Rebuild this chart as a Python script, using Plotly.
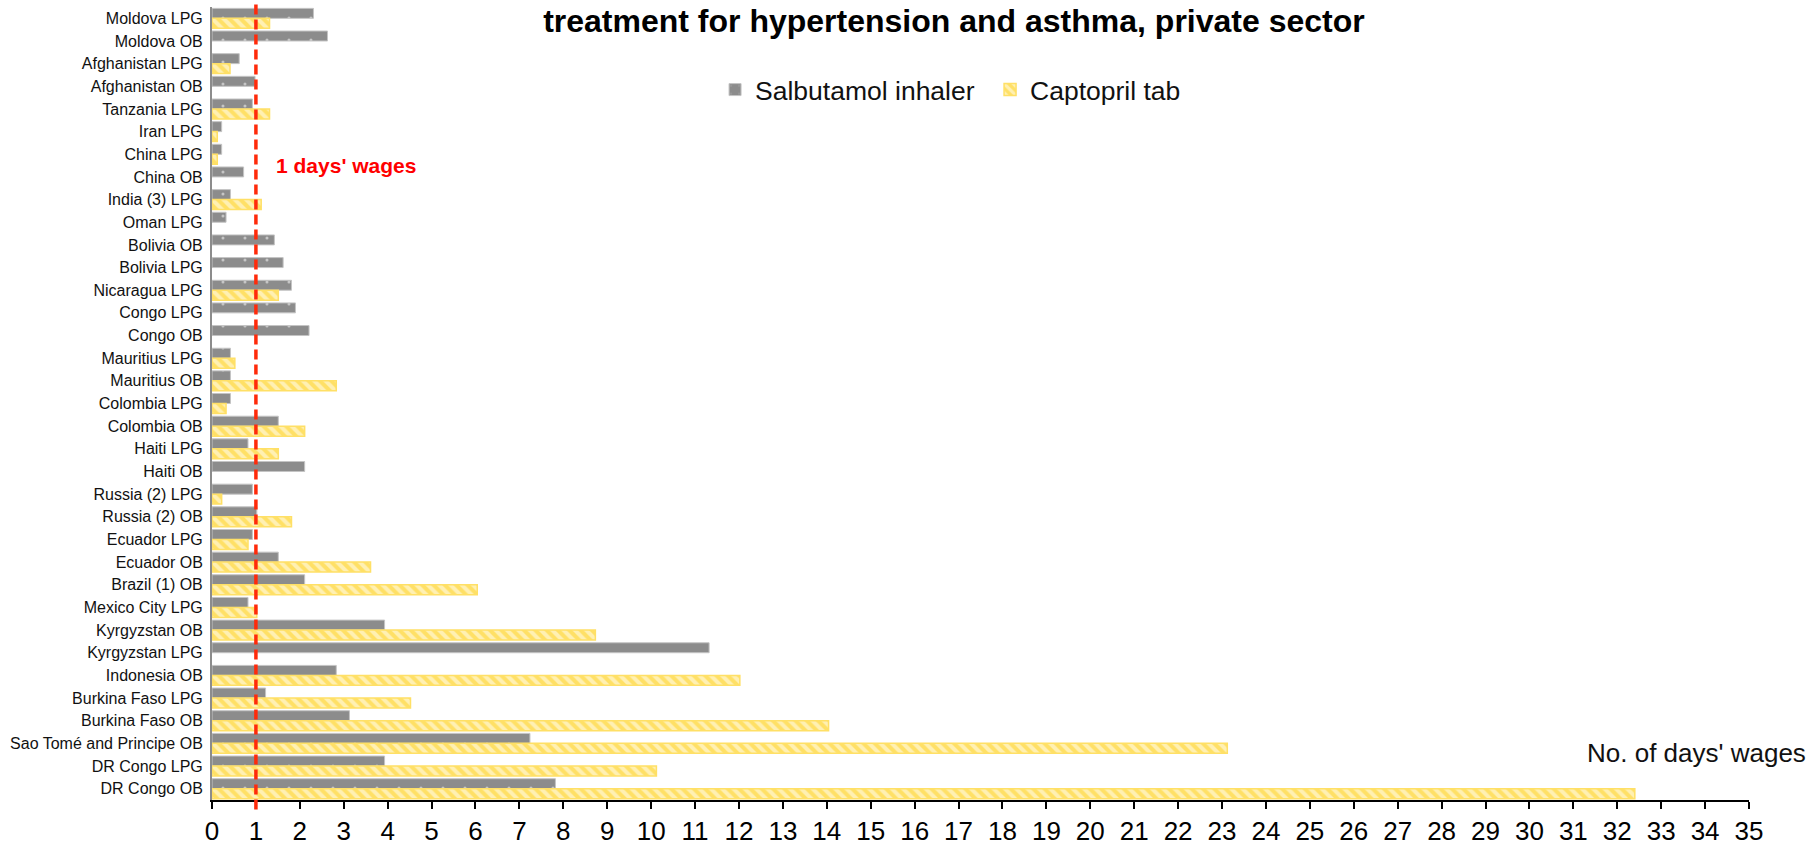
import plotly.graph_objects as go

# Rows listed top to bottom
categories = [
    "Moldova LPG", "Moldova OB", "Afghanistan LPG", "Afghanistan OB", "Tanzania LPG",
    "Iran LPG", "China LPG", "China OB", "India (3) LPG", "Oman LPG",
    "Bolivia OB", "Bolivia LPG", "Nicaragua LPG", "Congo LPG", "Congo OB",
    "Mauritius LPG", "Mauritius OB", "Colombia LPG", "Colombia OB", "Haiti LPG",
    "Haiti OB", "Russia (2) LPG", "Russia (2) OB", "Ecuador LPG", "Ecuador OB",
    "Brazil (1) OB", "Mexico City LPG", "Kyrgyzstan OB", "Kyrgyzstan LPG", "Indonesia OB",
    "Burkina Faso LPG", "Burkina Faso OB", "Sao Tomé and Principe OB", "DR Congo LPG", "DR Congo OB",
]

salbutamol = [
    2.31, 2.63, 0.62, 0.98, 0.92,
    0.22, 0.22, 0.72, 0.42, 0.32,
    1.42, 1.62, 1.81, 1.90, 2.21,
    0.42, 0.42, 0.42, 1.51, 0.82,
    2.11, 0.92, 1.02, 0.92, 1.51,
    2.11, 0.82, 3.93, 11.32, 2.83,
    1.22, 3.13, 7.24, 3.93, 7.82,
]

captopril = [
    1.31, None, 0.41, None, 1.31,
    0.12, 0.12, None, 1.12, None,
    None, None, 1.51, None, None,
    0.52, 2.83, 0.32, 2.11, 1.51,
    None, 0.22, 1.81, 0.82, 3.61,
    6.04, 1.02, 8.73, None, 12.02,
    4.52, 14.04, 23.12, 10.12, 32.40,
]

x_ticks = list(range(0, 36))
threshold = 1

FONT = "Liberation Sans, Arial, sans-serif"
GREY = "#8C8C8C"
YELLOW = "#FFE066"

fig = go.Figure()

fig.add_trace(go.Bar(
    name="Salbutamol inhaler",
    y=categories, x=salbutamol, orientation="h",
    marker=dict(
        color=GREY,
        line=dict(color="#C4C4C4", width=1),
        pattern=dict(shape=".", bgcolor=GREY, fgcolor="white", size=22, solidity=0.015),
    ),
))

fig.add_trace(go.Bar(
    name="Captopril tab",
    y=categories, x=captopril, orientation="h",
    marker=dict(
        color=YELLOW,
        line=dict(color=YELLOW, width=1.5),
        pattern=dict(shape="\\", bgcolor=YELLOW, fgcolor="white", size=8, solidity=0.5),
    ),
))

# One day's wage reference line
fig.add_shape(
    type="line", xref="x", yref="paper",
    x0=threshold, x1=threshold, y0=-0.012, y1=1.004,
    line=dict(color="#FF2A0A", width=3.5, dash="10px,5px"),
)

fig.add_annotation(
    text="1 days' wages", xref="x", yref="paper",
    x=1.41, y=0.80, xanchor="left", yanchor="middle",
    showarrow=False, font=dict(family=FONT, size=21, color="#FF0000", weight="bold"),
)

fig.add_annotation(
    text="No. of days' wages", xref="paper", yref="paper",
    x=1.0384, y=0.0593, xanchor="right", yanchor="middle",
    showarrow=False, font=dict(family=FONT, size=26, color="#111111"),
)

fig.update_layout(
    width=1816, height=847,
    margin=dict(l=212, r=67, t=7, b=47, autoexpand=False),
    plot_bgcolor="white", paper_bgcolor="white",
    barmode="group", bargap=0.12, bargroupgap=0,
    font=dict(family=FONT, color="#111111"),
    title=dict(
        text="<b>treatment for hypertension and asthma, private sector</b>",
        xref="container", yref="container",
        x=0.5253, y=0.975, xanchor="center", yanchor="middle",
        font=dict(family=FONT, size=32, color="#000000"),
    ),
    legend=dict(
        orientation="h", x=0.3273, y=0.8955, xanchor="left", yanchor="middle",
        font=dict(family=FONT, size=26.5, color="#111111"),
        bgcolor="rgba(0,0,0,0)", itemwidth=30,
        entrywidth=230, entrywidthmode="pixels",
    ),
    xaxis=dict(
        range=[0, 35], tickmode="array", tickvals=x_ticks, ticktext=[str(v) for v in x_ticks],
        showgrid=False, zeroline=False, automargin=False,
        showline=True, linecolor="#000000", linewidth=2,
        ticks="outside", ticklen=7, tickwidth=2, tickcolor="#000000",
        tickfont=dict(family=FONT, size=26, color="#000000"),
        ticklabelstandoff=0,
    ),
    yaxis=dict(
        autorange="reversed", type="category", automargin=False,
        showgrid=False, zeroline=False,
        showline=True, linecolor="#8C8C8C", linewidth=2,
        ticks="", tickfont=dict(family=FONT, size=16, color="#111111"),
        ticklabelstandoff=4,
    ),
)

fig.write_html("out.html")
